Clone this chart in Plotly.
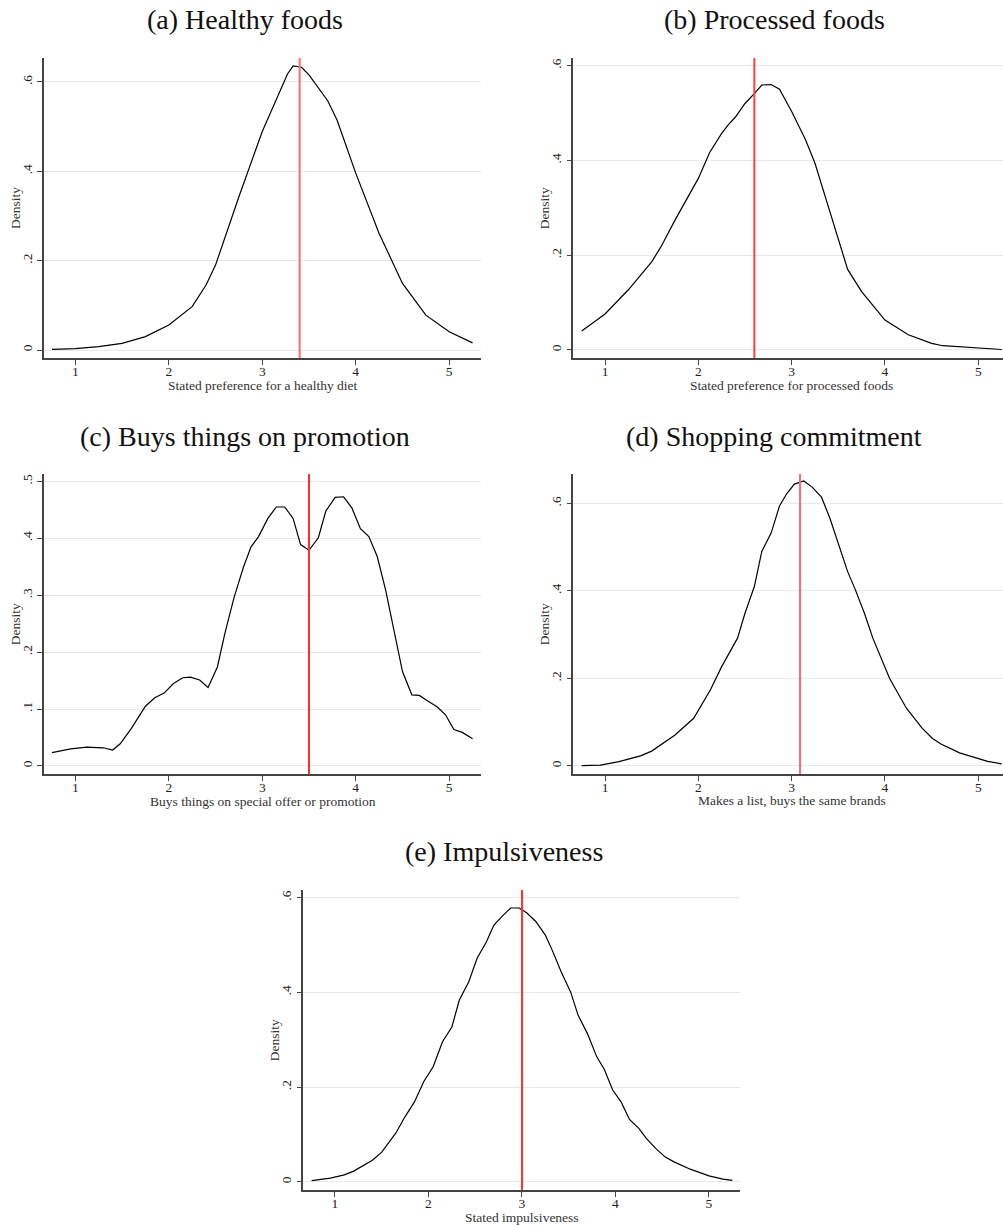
import plotly.graph_objects as go

W, H = 1003, 1226

# Kernel density estimates of each attitude score
healthy_x = [0.75, 1.0, 1.25, 1.5, 1.75, 2.0, 2.25, 2.4, 2.5, 2.75, 3.0, 3.1, 3.2, 3.27, 3.33,
             3.42, 3.5, 3.6, 3.7, 3.8, 4.0, 4.25, 4.5, 4.75, 5.0, 5.25]
healthy_y = [0.0015, 0.003, 0.0075, 0.015, 0.03, 0.056, 0.097, 0.146, 0.19, 0.343, 0.489, 0.537,
             0.586, 0.618, 0.636, 0.633, 0.616, 0.588, 0.558, 0.515, 0.396, 0.261, 0.149, 0.078,
             0.041, 0.016]

processed_x = [0.75, 0.93, 1.0, 1.25, 1.4, 1.5, 1.6, 1.75, 2.0, 2.12, 2.25, 2.32, 2.4, 2.5, 2.6,
               2.68, 2.78, 2.87, 3.0, 3.15, 3.25, 3.5, 3.6, 3.75, 4.0, 4.25, 4.5, 4.62, 5.0, 5.25]
processed_y = [0.040, 0.065, 0.076, 0.127, 0.162, 0.186, 0.218, 0.274, 0.362, 0.416, 0.457, 0.475,
               0.492, 0.520, 0.541, 0.559, 0.560, 0.550, 0.503, 0.443, 0.394, 0.232, 0.170, 0.123,
               0.063, 0.032, 0.014, 0.009, 0.0035, 0.001]

promo_x = [0.75, 0.85, 0.95, 1.05, 1.12, 1.3, 1.4, 1.48, 1.6, 1.75, 1.85, 1.95, 2.05, 2.15, 2.23,
           2.33, 2.42, 2.52, 2.6, 2.7, 2.8, 2.88, 2.96, 3.06, 3.15, 3.24, 3.33, 3.41, 3.5, 3.6,
           3.68, 3.78, 3.87, 3.96, 4.05, 4.14, 4.23, 4.32, 4.41, 4.5, 4.6, 4.68, 4.77, 4.87, 4.96,
           5.05, 5.14, 5.25]
promo_y = [0.0234, 0.027, 0.030, 0.032, 0.033, 0.032, 0.028, 0.039, 0.066, 0.105, 0.120, 0.128,
           0.145, 0.155, 0.156, 0.151, 0.138, 0.174, 0.233, 0.297, 0.350, 0.385, 0.403, 0.435,
           0.455, 0.455, 0.435, 0.389, 0.379, 0.401, 0.448, 0.472, 0.473, 0.453, 0.417, 0.403,
           0.368, 0.309, 0.239, 0.166, 0.125, 0.124, 0.114, 0.104, 0.090, 0.064, 0.059, 0.048]

commit_x = [0.75, 0.95, 1.15, 1.38, 1.5, 1.75, 1.95, 2.13, 2.25, 2.42, 2.5, 2.6, 2.68, 2.78, 2.87,
            2.95, 3.03, 3.13, 3.22, 3.32, 3.41, 3.5, 3.6, 3.68, 3.78, 3.87, 4.05, 4.23, 4.4, 4.51,
            4.6, 4.8, 5.0, 5.1, 5.25]
commit_y = [0.0008, 0.002, 0.010, 0.023, 0.034, 0.071, 0.109, 0.174, 0.227, 0.292, 0.349, 0.410,
            0.490, 0.532, 0.594, 0.623, 0.644, 0.651, 0.637, 0.614, 0.566, 0.509, 0.444, 0.404,
            0.349, 0.292, 0.200, 0.132, 0.086, 0.063, 0.050, 0.030, 0.0175, 0.0107, 0.005]

impulse_x = [0.75, 0.95, 1.1, 1.2, 1.4, 1.5, 1.65, 1.75, 1.85, 1.95, 2.05, 2.15, 2.25, 2.33, 2.43,
             2.52, 2.62, 2.7, 2.8, 2.88, 2.97, 3.05, 3.15, 3.25, 3.33, 3.42, 3.52, 3.6, 3.7, 3.8,
             3.88, 3.97, 4.06, 4.15, 4.25, 4.33, 4.43, 4.53, 4.62, 4.8, 5.0, 5.15, 5.25]
impulse_y = [0.003, 0.008, 0.015, 0.023, 0.046, 0.063, 0.103, 0.138, 0.169, 0.212, 0.243, 0.296,
             0.327, 0.384, 0.422, 0.472, 0.507, 0.542, 0.563, 0.578, 0.578, 0.568, 0.549, 0.521,
             0.486, 0.443, 0.401, 0.352, 0.313, 0.264, 0.238, 0.194, 0.169, 0.132, 0.113, 0.092,
             0.071, 0.053, 0.043, 0.027, 0.013, 0.006, 0.0035]

# Sample means shown as vertical reference lines
means = [3.40, 2.60, 3.50, 3.09, 3.00]

titles = ["(a) Healthy foods", "(b) Processed foods", "(c) Buys things on promotion",
          "(d) Shopping commitment", "(e) Impulsiveness"]
xtitles = ["Stated preference for a healthy diet", "Stated preference for processed foods",
           "Buys things on special offer or promotion", "Makes a list, buys the same brands",
           "Stated impulsiveness"]
ytick_vals = [[0, 0.2, 0.4, 0.6], [0, 0.2, 0.4, 0.6], [0, 0.1, 0.2, 0.3, 0.4, 0.5],
              [0, 0.2, 0.4, 0.6], [0, 0.2, 0.4, 0.6]]
ytick_text = [["0", ".2", ".4", ".6"], ["0", ".2", ".4", ".6"], ["0", ".1", ".2", ".3", ".4", ".5"],
              ["0", ".2", ".4", ".6"], ["0", ".2", ".4", ".6"]]
xtick_vals = [1, 2, 3, 4, 5]
xtick_text = ["1", "2", "3", "4", "5"]

series = [(healthy_x, healthy_y), (processed_x, processed_y), (promo_x, promo_y),
          (commit_x, commit_y), (impulse_x, impulse_y)]

# Panel geometry in pixels: plot area edges, axis ranges, title row and title centre
panels = [
    dict(l=44, r=481, t=58, b=358, xr=[0.665, 5.34], yr=[-0.0179, 0.6537], ty=20, tx=245),
    dict(l=573.3, r=1010, t=58, b=358, xr=[0.660, 5.34], yr=[-0.0169, 0.616], ty=20, tx=774),
    dict(l=44, r=481, t=474, b=774.3, xr=[0.665, 5.34], yr=[-0.0146, 0.513], ty=436.7, tx=244.5),
    dict(l=573.3, r=1010, t=474, b=774, xr=[0.660, 5.34], yr=[-0.0183, 0.667], ty=436.7, tx=773.5),
    dict(l=303.3, r=740, t=890, b=1190, xr=[0.661, 5.332], yr=[-0.0169, 0.616], ty=851.7, tx=503.5),
]
mean_colors = ["#ff6a6a", "#ff4040", "#ff3030", "#ff6a6a", "#ff3030"]

SERIF = "Liberation Serif"
fig = go.Figure()
layout = dict(width=W, height=H, margin=dict(l=0, r=0, t=0, b=0),
              paper_bgcolor="white", plot_bgcolor="white", showlegend=False,
              annotations=[], shapes=[])

for i, (p, (sx, sy)) in enumerate(zip(panels, series)):
    n = "" if i == 0 else str(i + 1)
    xa, ya = "x" + n, "y" + n
    right = min(p["r"], W)
    # clip the axis range where the plot area runs past the page edge
    xr = list(p["xr"])
    if p["r"] > W:
        unit = (p["r"] - p["l"]) / (xr[1] - xr[0])
        xr[1] = xr[0] + (W - p["l"]) / unit
    fig.add_trace(go.Scatter(x=sx, y=sy, mode="lines", xaxis=xa, yaxis=ya,
                             line=dict(color="black", width=1.2), hoverinfo="skip"))
    layout["xaxis" + n] = dict(
        domain=[p["l"] / W, right / W], range=xr, anchor=ya,
        tickvals=xtick_vals, ticktext=xtick_text, ticks="outside", ticklen=5,
        tickcolor="#444", tickwidth=1, showline=True, linecolor="#444", linewidth=1.5,
        ticklabelstandoff=-5,
        showgrid=False, zeroline=False, tickfont=dict(family=SERIF, size=13.5, color="#222"))
    layout["yaxis" + n] = dict(
        domain=[1 - p["b"] / H, 1 - p["t"] / H], range=p["yr"], anchor=xa,
        tickvals=ytick_vals[i], ticktext=ytick_text[i], ticks="outside", ticklen=5,
        tickcolor="#444", tickwidth=1, showline=True, linecolor="#444", linewidth=1.5,
        showgrid=True, gridcolor="#e8e8e8", gridwidth=1, zeroline=False, tickangle=-90,
        tickfont=dict(family=SERIF, size=13.5, color="#222"))
    layout["shapes"].append(dict(type="line", xref=xa, yref=ya + " domain", x0=means[i],
                                 x1=means[i], y0=0, y1=1,
                                 line=dict(color=mean_colors[i], width=2)))
    cx = (p["l"] + p["r"]) / 2
    # Panel title
    layout["annotations"].append(dict(
        text=titles[i], xref="paper", yref="paper", x=p["tx"] / W, y=1 - p["ty"] / H,
        showarrow=False, xanchor="center", yanchor="middle",
        font=dict(family=SERIF, size=28, color="#111")))
    # x-axis title
    layout["annotations"].append(dict(
        text=xtitles[i], xref="paper", yref="paper", x=cx / W, y=1 - (p["b"] + 27) / H,
        showarrow=False, xanchor="center", yanchor="middle",
        font=dict(family=SERIF, size=13.5, color="#333")))
    # y-axis title
    layout["annotations"].append(dict(
        text="Density", xref="paper", yref="paper", x=(p["l"] - 29) / W,
        y=1 - (p["t"] + p["b"]) / 2 / H, showarrow=False, textangle=-90,
        xanchor="center", yanchor="middle",
        font=dict(family=SERIF, size=13.5, color="#333")))

fig.update_layout(**layout)
fig.write_html("out.html")
